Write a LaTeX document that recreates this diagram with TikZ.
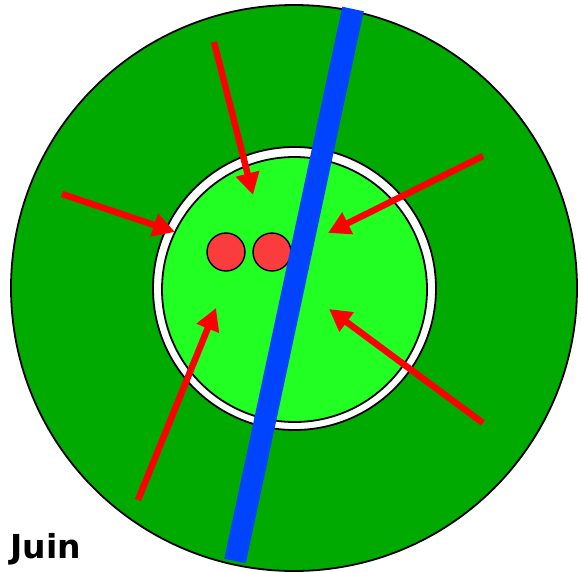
\documentclass[tikz,border=0pt]{standalone}
\usepackage{fontspec}
\setmainfont{DejaVu Sans}
\usetikzlibrary{arrows.meta}

\definecolor{fielddark}{RGB}{0,170,0}
\definecolor{fieldlight}{RGB}{34,255,34}
\definecolor{riverblue}{RGB}{0,68,255}
\definecolor{dotred}{RGB}{250,60,60}

\begin{document}
\begin{tikzpicture}[
    x=1pt, y=-1pt,
    outline/.style={draw=black, line width=1.8pt},
    river/.style={draw=riverblue, line width=22pt},
    pusharrow/.style={draw=red, line width=6.5pt, -{Triangle[length=22pt,width=23pt]}},
    seed/.style={circle, draw=black, line width=1.4pt, fill=dotred, minimum size=38pt, inner sep=0pt},
    month/.style={anchor=base west, font=\bfseries\fontsize{33}{36}\selectfont}
]
    \useasboundingbox (0,0) rectangle (584,571);

    % Outer field
    \path [outline, fill=fielddark] (294,288) circle (283);

    % White ring and inner field
    \path [outline, fill=white] (294.5,288.5) circle (141.5);
    \path [outline, fill=fieldlight] (294.5,289.5) circle (132.5);

    % Seeds
    \node [seed] (seedA) at (226,252) {};
    \node [seed] (seedB) at (272,252) {};

    % River
    \coordinate (riverTop) at (353,9);
    \coordinate (riverBot) at (235,561);
    \path [river] (riverTop) -- (riverBot);

    % Arrows pointing inwards
    \coordinate (tailA) at (214,42);   \coordinate (headA) at (253,195);
    \coordinate (tailB) at (62,194);   \coordinate (headB) at (175,232);
    \coordinate (tailC) at (483,156);  \coordinate (headC) at (328,233);
    \coordinate (tailD) at (483,423);  \coordinate (headD) at (329,309);
    \coordinate (tailE) at (138,500);  \coordinate (headE) at (216,308);
    \foreach \a in {A,B,C,D,E}
        \path [pusharrow] (tail\a) -- (head\a);

    % Label
    \node [month] (juin) at (7,558) {Juin};

\end{tikzpicture}
\end{document}
